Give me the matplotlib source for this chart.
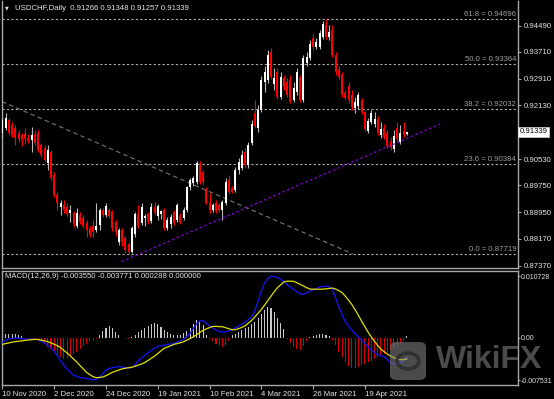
import numpy as np
import matplotlib
matplotlib.use("Agg")
from matplotlib import pyplot as plt
from matplotlib import transforms
from matplotlib.patches import FancyBboxPatch, Circle

# daily bars, USDCHF
opens = [0.9131, 0.9146, 0.9169, 0.9154, 0.9146, 0.9131, 0.9125, 0.9128, 0.9116, 0.9110,
         0.9128, 0.9131, 0.9095, 0.9086, 0.9042, 0.9074, 0.9006, 0.8947, 0.8911, 0.8917,
         0.8911, 0.8893, 0.8893, 0.8855, 0.8887, 0.8879, 0.8864, 0.8849, 0.8855, 0.8843,
         0.8858, 0.8902, 0.8887, 0.8902, 0.8896, 0.8867, 0.8807, 0.8843, 0.8819, 0.8801,
         0.8778, 0.8831, 0.8890, 0.8864, 0.8879, 0.8890, 0.8870, 0.8911, 0.8884, 0.8890,
         0.8902, 0.8849, 0.8861, 0.8896, 0.8873, 0.8884, 0.8879, 0.8902, 0.8970, 0.8982,
         0.8985, 0.9042, 0.9015, 0.8962, 0.8923, 0.8902, 0.8923, 0.8917, 0.8902, 0.8923,
         0.8991, 0.8968, 0.8962, 0.9021, 0.9027, 0.9074, 0.9036, 0.9101, 0.9190, 0.9146,
         0.9199, 0.9282, 0.9288, 0.9371, 0.9276, 0.9312, 0.9237, 0.9294, 0.9282, 0.9288,
         0.9229, 0.9252, 0.9294, 0.9229, 0.9338, 0.9353, 0.9413, 0.9386, 0.9386, 0.9415,
         0.9451, 0.9415, 0.9436, 0.9362, 0.9318, 0.9303, 0.9249, 0.9270, 0.9243, 0.9205,
         0.9211, 0.9229, 0.9193, 0.9137, 0.9163, 0.9157, 0.9172, 0.9125, 0.9146, 0.9131,
         0.9107, 0.9083, 0.9146, 0.9104, 0.9137, 0.91266]
highs = [0.9178, 0.9190, 0.9175, 0.9163, 0.9154, 0.9140, 0.9131, 0.9146, 0.9128, 0.9148,
         0.9140, 0.9140, 0.9101, 0.9095, 0.9095, 0.9080, 0.9015, 0.8956, 0.8932, 0.8932,
         0.8923, 0.8917, 0.8899, 0.8908, 0.8896, 0.8887, 0.8873, 0.8855, 0.8873, 0.8923,
         0.8908, 0.8908, 0.8923, 0.8908, 0.8902, 0.8873, 0.8849, 0.8849, 0.8825, 0.8807,
         0.8855, 0.8896, 0.8917, 0.8923, 0.8890, 0.8896, 0.8923, 0.8926, 0.8920, 0.8902,
         0.8908, 0.8881, 0.8890, 0.8902, 0.8923, 0.8893, 0.8911, 0.8973, 0.8997, 0.9003,
         0.9048, 0.9048, 0.9021, 0.8970, 0.8953, 0.8923, 0.8932, 0.8923, 0.8932, 0.8997,
         0.9006, 0.8973, 0.9030, 0.9057, 0.9080, 0.9086, 0.9104, 0.9169, 0.9229, 0.9214,
         0.9300, 0.9329, 0.9377, 0.9383, 0.9324, 0.9324, 0.9312, 0.9303, 0.9294, 0.9303,
         0.9282, 0.9324, 0.9303, 0.9362, 0.9371, 0.9407, 0.9424, 0.9413, 0.9436, 0.9463,
         0.94696, 0.9451, 0.9451, 0.9371, 0.9329, 0.9312, 0.9258, 0.9282, 0.9258, 0.9237,
         0.9252, 0.9235, 0.9199, 0.9175, 0.9199, 0.9193, 0.9181, 0.9163, 0.9157, 0.9140,
         0.9119, 0.9140, 0.9163, 0.9154, 0.9163, 0.91348]
lows = [0.9116, 0.9140, 0.9125, 0.9119, 0.9095, 0.9104, 0.9092, 0.9098, 0.9101, 0.9074,
        0.9095, 0.9074, 0.9059, 0.9045, 0.9021, 0.8991, 0.8941, 0.8902, 0.8887, 0.8893,
        0.8884, 0.8867, 0.8852, 0.8849, 0.8861, 0.8849, 0.8822, 0.8822, 0.8822, 0.8837,
        0.8843, 0.8881, 0.8881, 0.8879, 0.8840, 0.8825, 0.8798, 0.8795, 0.8775, 0.8772,
        0.8776, 0.8822, 0.8849, 0.8858, 0.8855, 0.8861, 0.8864, 0.8887, 0.8873, 0.8876,
        0.8843, 0.8843, 0.8849, 0.8858, 0.8867, 0.8861, 0.8873, 0.8896, 0.8962, 0.8973,
        0.8979, 0.8979, 0.8976, 0.8920, 0.8893, 0.8896, 0.8893, 0.8896, 0.8873, 0.8917,
        0.8950, 0.8953, 0.8956, 0.9009, 0.9021, 0.9027, 0.9027, 0.9095, 0.9146, 0.9134,
        0.9193, 0.9252, 0.9279, 0.9291, 0.9258, 0.9232, 0.9232, 0.9258, 0.9237, 0.9220,
        0.9223, 0.9243, 0.9223, 0.9223, 0.9329, 0.9347, 0.9377, 0.9380, 0.9380, 0.9410,
        0.9410, 0.9407, 0.9356, 0.9303, 0.9288, 0.9237, 0.9229, 0.9220, 0.9199, 0.9190,
        0.9202, 0.9187, 0.9137, 0.9131, 0.9157, 0.9148, 0.9125, 0.9116, 0.9113, 0.9086,
        0.9080, 0.9074, 0.9107, 0.9098, 0.9119, 0.91257]
closes = [0.9169, 0.9175, 0.9131, 0.9125, 0.9116, 0.9113, 0.9110, 0.9113, 0.9107, 0.9125,
          0.9101, 0.9080, 0.9065, 0.9051, 0.9080, 0.8997, 0.8947, 0.8923, 0.8923, 0.8902,
          0.8890, 0.8902, 0.8858, 0.8893, 0.8867, 0.8855, 0.8843, 0.8828, 0.8837, 0.8855,
          0.8902, 0.8887, 0.8914, 0.8884, 0.8849, 0.8837, 0.8843, 0.8807, 0.8784, 0.8778,
          0.8849, 0.8890, 0.8855, 0.8911, 0.8884, 0.8870, 0.8911, 0.8893, 0.8914, 0.8899,
          0.8849, 0.8873, 0.8881, 0.8864, 0.8917, 0.8867, 0.8902, 0.8970, 0.8991, 0.8997,
          0.9042, 0.8985, 0.8985, 0.8923, 0.8902, 0.8917, 0.8899, 0.8902, 0.8926, 0.8985,
          0.8956, 0.8956, 0.9021, 0.9045, 0.9065, 0.9036, 0.9095, 0.9157, 0.9151, 0.9199,
          0.9288, 0.9312, 0.9362, 0.9297, 0.9294, 0.9237, 0.9297, 0.9267, 0.9243, 0.9226,
          0.9264, 0.9312, 0.9229, 0.9353, 0.9356, 0.9395, 0.9386, 0.9401, 0.9427, 0.9454,
          0.9415, 0.9430, 0.9362, 0.9312, 0.9297, 0.9243, 0.9235, 0.9229, 0.9208, 0.9223,
          0.9243, 0.9193, 0.9143, 0.9166, 0.9190, 0.9172, 0.9131, 0.9143, 0.9119, 0.9092,
          0.9089, 0.9122, 0.9113, 0.9131, 0.9125, 0.91339]

# MACD(12,26,9) panel
macd_main = [-0.00093, -0.00046, -0.00025, -0.00016, -0.00009, -0.00012, -0.00019, -0.00026, -0.00030, -0.00030,
             -0.00030, -0.00040, -0.00063, -0.00095, -0.00137, -0.00182, -0.00240, -0.00326, -0.00414, -0.00486,
             -0.00558, -0.00612, -0.00663, -0.00682, -0.00702, -0.00711, -0.00719, -0.00730, -0.00742, -0.00733,
             -0.00696, -0.00635, -0.00570, -0.00544, -0.00528, -0.00516, -0.00516, -0.00516, -0.00525, -0.00539,
             -0.00525, -0.00481, -0.00405, -0.00356, -0.00316, -0.00265, -0.00230, -0.00189, -0.00156, -0.00144,
             -0.00132, -0.00123, -0.00114, -0.00104, -0.00081, -0.00058, -0.00032, 0.00019, 0.00072, 0.00158,
             0.00242, 0.00289, 0.00298, 0.00251, 0.00207, 0.00165, 0.00133, 0.00104, 0.00098, 0.00098,
             0.00116, 0.00137, 0.00168, 0.00202, 0.00235, 0.00274, 0.00314, 0.00358, 0.00467, 0.00640,
             0.00814, 0.00953, 0.01035, 0.01073, 0.01070, 0.01053, 0.01025, 0.00977, 0.00928, 0.00882,
             0.00844, 0.00804, 0.00765, 0.00754, 0.00782, 0.00811, 0.00835, 0.00860, 0.00882, 0.00895,
             0.00902, 0.00893, 0.00842, 0.00689, 0.00537, 0.00400, 0.00268, 0.00198, 0.00130, 0.00067,
             0.00011, -0.00046, -0.00102, -0.00160, -0.00218, -0.00261, -0.00298, -0.00321, -0.00337, -0.00388,
             -0.00444, -0.00462, -0.00460, -0.00440, -0.00405, -0.003550]
macd_signal = [-0.00119, -0.00107, -0.00095, -0.00081, -0.00072, -0.00065, -0.00058, -0.00051, -0.00044, -0.00039,
               -0.00033, -0.00035, -0.00046, -0.00058, -0.00072, -0.00095, -0.00119, -0.00146, -0.00181, -0.00228,
               -0.00272, -0.00325, -0.00379, -0.00432, -0.00493, -0.00553, -0.00612, -0.00651, -0.00688, -0.00705,
               -0.00700, -0.00693, -0.00670, -0.00639, -0.00611, -0.00589, -0.00570, -0.00551, -0.00539, -0.00530,
               -0.00521, -0.00504, -0.00484, -0.00465, -0.00439, -0.00402, -0.00365, -0.00328, -0.00282, -0.00235,
               -0.00189, -0.00167, -0.00144, -0.00121, -0.00107, -0.00093, -0.00074, -0.00046, -0.00018, 0.00012,
               0.00049, 0.00088, 0.00126, 0.00151, 0.00174, 0.00195, 0.00195, 0.00191, 0.00188, 0.00172,
               0.00153, 0.00135, 0.00137, 0.00156, 0.00177, 0.00205, 0.00253, 0.00300, 0.00360, 0.00425,
               0.00491, 0.00567, 0.00644, 0.00725, 0.00802, 0.00874, 0.00925, 0.00975, 0.00988, 0.00988,
               0.00986, 0.00960, 0.00933, 0.00905, 0.00874, 0.00851, 0.00847, 0.00847, 0.00847, 0.00847,
               0.00854, 0.00861, 0.00868, 0.00849, 0.00821, 0.00786, 0.00723, 0.00654, 0.00579, 0.00486,
               0.00391, 0.00289, 0.00191, 0.00096, 0.00012, -0.00067, -0.00142, -0.00205, -0.00249, -0.00291,
               -0.00326, -0.00354, -0.00377, -0.00389, -0.00389, -0.003771]
macd_hist = [0.0004, 0.0006, 0.0007, 0.0007, 0.0006, 0.0004, 0.0002, -0.0001, -0.0001, -0.0002,
             -0.0003, -0.0005, -0.0008, -0.0012, -0.0016, -0.0021, -0.0026, -0.0031, -0.0035, -0.0037,
             -0.0036, -0.0033, -0.0029, -0.0025, -0.0020, -0.0015, -0.0011, -0.0007, -0.0004, -0.0002,
             0.0004, 0.0011, 0.0017, 0.0020, 0.0017, 0.0010, 0.0004, -0.0001, -0.0003, -0.0003,
             0.0001, 0.0004, 0.0009, 0.0013, 0.0017, 0.0021, 0.0024, 0.0025, 0.0023, 0.0019,
             0.0013, 0.0009, 0.0006, 0.0005, 0.0005, 0.0005, 0.0008, 0.0012, 0.0017, 0.0024,
             0.0030, 0.0028, 0.0022, 0.0004, -0.0003, -0.0007, -0.0011, -0.0014, -0.0016, -0.0013,
             -0.0006, 0.0005, 0.0007, 0.0010, 0.0013, 0.0016, 0.0019, 0.0023, 0.0028, 0.0034,
             0.0041, 0.0048, 0.0054, 0.0052, 0.0045, 0.0035, 0.0025, 0.0015, -0.0003, -0.0010,
             -0.0016, -0.0020, -0.0022, -0.0015, -0.0006, 0.0001, 0.0003, 0.0005, 0.0007, 0.0006,
             0.0004, 0.0002, -0.0005, -0.0014, -0.0025, -0.0035, -0.0043, -0.0050, -0.0054, -0.0053,
             -0.0051, -0.0048, -0.0046, -0.0043, -0.0041, -0.0038, -0.0035, -0.0032, -0.0029, -0.0026,
             -0.0022, -0.0018, -0.0015, -0.0010, -0.0006, 0.000288]

date_ticks = [0, 16, 32, 48, 64, 80, 96, 112]
date_labels = ["10 Nov 2020", "2 Dec 2020", "24 Dec 2020", "19 Jan 2021",
               "10 Feb 2021", "4 Mar 2021", "26 Mar 2021", "19 Apr 2021"]

price_ticks = [0.94490, 0.93710, 0.92910, 0.92130, 0.90530, 0.89750, 0.88950, 0.88170, 0.87370]
fib_levels = [0.94696, 0.93364, 0.92032, 0.90384, 0.87719]
fib_names = ["61.8", "50.0", "38.2", "23.6", "0.0"]
macd_ticks = [0.010728, 0.0, -0.007531]
macd_tick_labels = ["0.010728", "0.00", "-0.007531"]

# drawn objects (bar index, price)
fib_diag = [(-0.15, 0.9224), (108.3, 0.87719)]
trend_line = [(36.85, 0.87489), (135.2, 0.91568)]

plt.rcParams['font.family'] = ['Liberation Sans', 'DejaVu Sans']
txt = '#e6e6e6'
frame = '#a8a8a8'
fs = 5.6

fig = plt.figure(figsize=(5.54, 3.99), dpi=100, facecolor='black')
W, H = 554.0, 399.0
ax = fig.add_axes([2 / W, 1 - 268 / H, 515.7 / W, 267 / H], facecolor='black')
ax2 = fig.add_axes([2 / W, 1 - 385 / H, 515.7 / W, 114.5 / H], facecolor='black')

n = len(closes)
x = np.arange(n)
o = np.array(opens); c = np.array(closes)
hi = np.array(highs); lo = np.array(lows)
up = c >= o

# candles
ax.vlines(x[up], lo[up], hi[up], color='#b8b8b8', lw=0.8, zorder=3)
ax.vlines(x[~up], lo[~up], hi[~up], color='#ff0000', lw=0.8, zorder=3)
body = np.maximum(np.abs(c - o), 0.00008)
ax.bar(x[up], body[up], bottom=np.minimum(o, c)[up], width=0.62, color='white', lw=0, zorder=4)
ax.bar(x[~up], body[~up], bottom=np.minimum(o, c)[~up], width=0.62, color='#ff0000', lw=0, zorder=4)

ax.set_xlim(-0.15, -0.15 + 515.7 / 3.235)
ax.set_ylim(0.873016, 0.952227)

# fibo
trans = transforms.blended_transform_factory(ax.transAxes, ax.transData)
for lev, name in zip(fib_levels, fib_names):
    ax.axhline(lev, color='#b0b0b0', lw=0.8, ls=(0, (2, 2)), zorder=2)
    ax.text(0.997, lev + 0.0002, "%s = %.5f" % (name, lev), transform=trans,
            ha='right', va='bottom', color='#a0a0a0', fontsize=fs)
ax.plot([p[0] for p in fib_diag], [p[1] for p in fib_diag], color='#7a7a7a', lw=0.8,
        ls=(0, (4, 3)), zorder=2)
ax.plot([p[0] for p in trend_line], [p[1] for p in trend_line], color='#8a00d8', lw=0.9,
        ls=(0, (2, 2)), zorder=5)

# right price scale
ax.yaxis.tick_right()
ax.set_yticks(price_ticks)
ax.set_yticklabels(["%.5f" % v for v in price_ticks])
ax.tick_params(axis='y', colors=frame, labelcolor=txt, labelsize=fs, length=2, pad=2, width=0.8)
ax.set_xticks([])
ax.text(1.004, closes[-1], "%.5f" % closes[-1], transform=trans, ha='left', va='center',
        color='black', fontsize=fs,
        bbox=dict(boxstyle='square,pad=0.18', fc='white', ec='#d0d0d0', lw=0.5))
for s in ['left', 'right', 'bottom']:
    ax.spines[s].set_color(frame)
    ax.spines[s].set_linewidth(1.0)
ax.spines['top'].set_visible(False)

fig.text(5 / W, 1 - 8 / H, u"\u25bc", color=txt, fontsize=3.5, va='center', family='DejaVu Sans')
fig.text(15 / W, 1 - 8 / H, "USDCHF,Daily  %.5f %.5f %.5f %.5f" % (opens[-1], highs[-1], lows[-1], closes[-1]),
         color=txt, fontsize=fs, va='center')

# MACD
hcol = ['#c8c8c8' if v >= 0 else '#d80000' for v in macd_hist]
ax2.bar(x, macd_hist, width=0.32, color=hcol, lw=0, zorder=2)
ax2.plot(x, macd_main, color='#1414ff', lw=0.9, zorder=3)
ax2.plot(x, macd_signal, color='#e0e000', lw=0.9, zorder=3)
ax2.set_xlim(ax.get_xlim())
ax2.set_ylim(-0.008333, 0.011754)
ax2.yaxis.tick_right()
ax2.set_yticks(macd_ticks)
ax2.set_yticklabels(macd_tick_labels)
ax2.tick_params(axis='y', colors=frame, labelcolor=txt, labelsize=5.0, length=1.5, pad=1, width=0.8)
ax2.set_xticks(date_ticks)
ax2.set_xticklabels(date_labels)
ax2.tick_params(axis='x', colors=frame, labelcolor=txt, labelsize=fs, length=3, pad=1.5, width=0.8)
for lab in ax2.get_xticklabels():
    lab.set_horizontalalignment('left')
for s in ax2.spines.values():
    s.set_color(frame)
    s.set_linewidth(1.0)
fig.text(5 / W, 1 - 277 / H, "MACD(12,26,9) %.6f %.6f %.6f 0.000000" % (macd_main[-1], macd_signal[-1], macd_hist[-1]),
         color=txt, fontsize=fs, va='center')

# watermark
wm = FancyBboxPatch((390 / W, 1 - 380 / H), 36 / W, 38 / H, boxstyle='round,pad=0,rounding_size=0.012',
                    transform=fig.transFigure, fc='#8a8a8a', ec='none', alpha=0.55, zorder=10)
fig.patches.append(wm)
fig.patches.append(Circle((408 / W, 1 - 361 / H), 11 / W, transform=fig.transFigure,
                          fc='none', ec='#2a2a2a', lw=2.5, alpha=0.8, zorder=11))
fig.text(436 / W, 1 - 360 / H, "WikiFX", color='#8a8a8a', alpha=0.55, fontsize=23,
         weight='bold', va='center', ha='left')

fig.savefig("out.png", dpi=100, facecolor='black')
